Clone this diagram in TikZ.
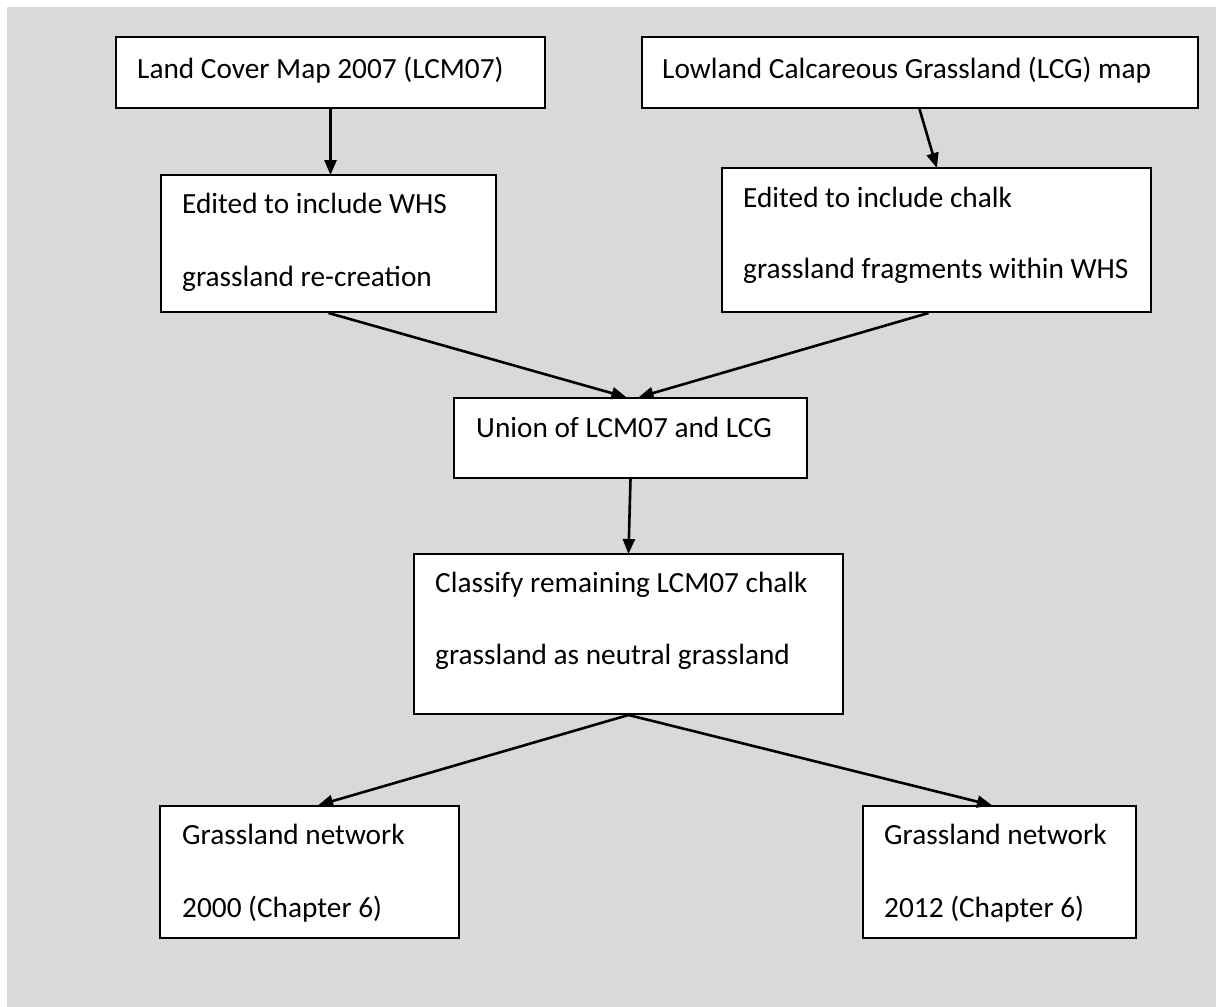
\documentclass[tikz,border=0pt]{standalone}
\usepackage{fontspec}
\setmainfont{Carlito}
\usetikzlibrary{arrows.meta}
\definecolor{bggray}{HTML}{D9D9D9}
\tikzset{
  box/.style={draw=black, fill=white, line width=2pt, rectangle, inner sep=0pt},
  txt/.style={inner sep=0pt, anchor=base west, font=\fontsize{29.3}{35}\selectfont},
  conn/.style={line width=2.6pt, -{Triangle[length=15pt,width=12pt]}, shorten >=-1pt}
}
\begin{document}
\begin{tikzpicture}[x=1pt,y=-1pt]
\useasboundingbox (0,0) rectangle (1216,1007);
\fill[bggray] (7,7) rectangle (1216,1007);
% boxes
\node[box, minimum width=429pt, minimum height=71pt] (b1) at (330.5,72.5) {};
\node[box, minimum width=556pt, minimum height=71pt] (b2) at (919.5,72.5) {};
\node[box, minimum width=335pt, minimum height=137pt] (b3) at (328.5,243.5) {};
\node[box, minimum width=429pt, minimum height=144pt] (b4) at (936.5,240) {};
\node[box, minimum width=353pt, minimum height=80pt] (b5) at (630.5,438) {};
\node[box, minimum width=429pt, minimum height=160pt] (b6) at (628.5,634) {};
\node[box, minimum width=299pt, minimum height=132pt] (b7) at (309.5,872) {};
\node[box, minimum width=273pt, minimum height=132pt] (b8) at (999.5,872) {};
% texts
\node[txt] (t1) at (137,78) {Land Cover Map 2007 (LCM07)};
\node[txt] (t2) at (662,78) {Lowland Calcareous Grassland (LCG) map};
\node[txt] (t3a) at (182,213) {Edited to include WHS};
\node[txt] (t3b) at (182,286) {grassland re-creation};
\node[txt] (t4a) at (743,207) {Edited to include chalk};
\node[txt] (t4b) at (743,278) {grassland fragments within WHS};
\node[txt] (t5) at (476,437) {Union of LCM07 and LCG};
\node[txt] (t6a) at (435,592) {Classify remaining LCM07 chalk};
\node[txt] (t6b) at (435,664) {grassland as neutral grassland};
\node[txt] (t7a) at (182,844) {Grassland network};
\node[txt] (t7b) at (182,917) {2000 (Chapter 6)};
\node[txt] (t8a) at (884,844) {Grassland network};
\node[txt] (t8b) at (884,917) {2012 (Chapter 6)};
% connectors
\draw[conn] (b1.south) -- (b1.south |- b3.north);
\draw[conn] (b2.south) -- (b4.north);
\draw[conn] (b3.south) -- ([xshift=-5pt]b5.north);
\draw[conn] ([xshift=-8pt]b4.south) -- ([xshift=9pt]b5.north);
\draw[conn] (b5.south) -- (b6.north);
\draw[conn] (b6.south) -- ([xshift=9.5pt]b7.north);
\draw[conn] (b6.south) -- ([xshift=-8.5pt]b8.north);
\end{tikzpicture}
\end{document}
